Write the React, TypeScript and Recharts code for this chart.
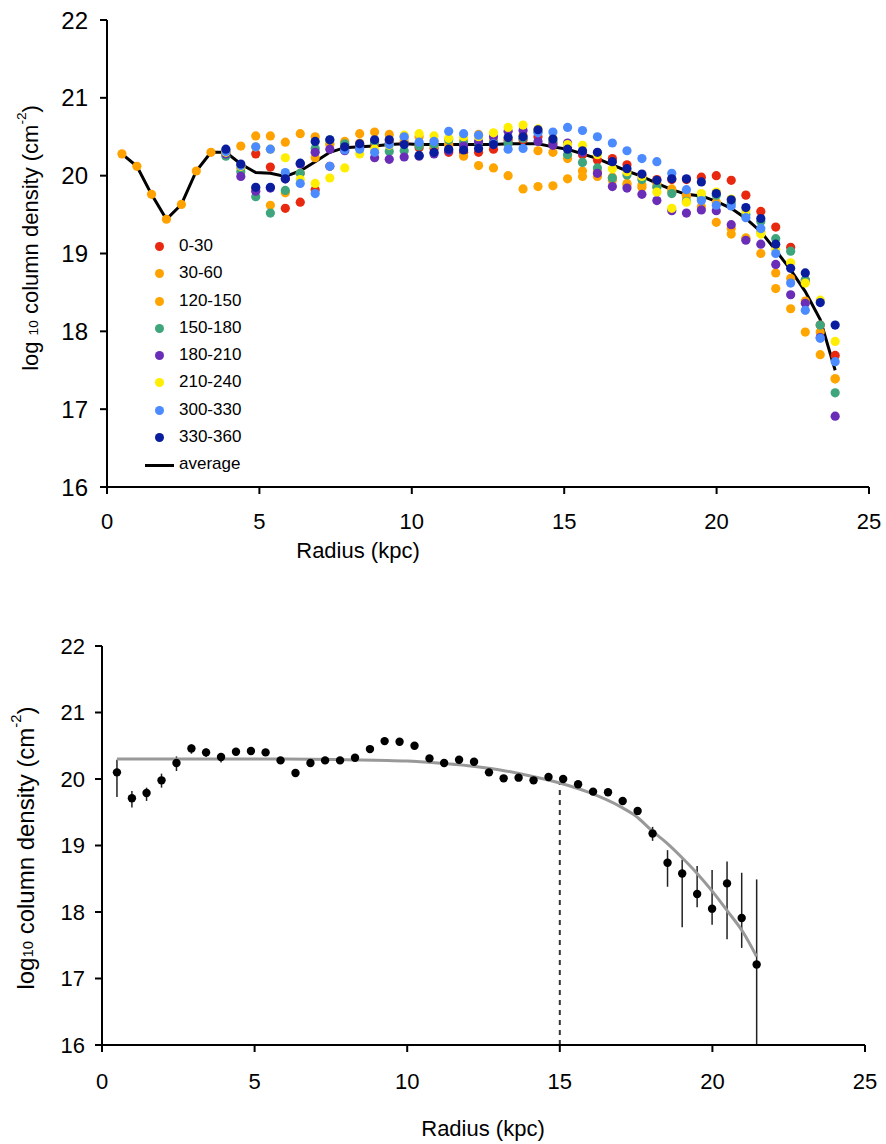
import React from 'react';
import { ScatterChart, Scatter, XAxis, YAxis, ErrorBar, ReferenceLine, Legend } from 'recharts';

const FONT = '"Liberation Sans", Arial, Helvetica, sans-serif';

// Radii (kpc) of the annuli
const radius = [
  0.49, 0.98, 1.46, 1.95, 2.44, 2.93, 3.41, 3.90, 4.39, 4.88,
  5.36, 5.85, 6.34, 6.83, 7.31, 7.80, 8.29, 8.78, 9.26, 9.75,
  10.24, 10.73, 11.21, 11.70, 12.19, 12.68, 13.16, 13.65, 14.14, 14.63,
  15.11, 15.60, 16.09, 16.58, 17.06, 17.55, 18.04, 18.53, 19.01, 19.50,
  19.99, 20.48, 20.96, 21.45, 21.94, 22.43, 22.91, 23.40, 23.89,
];

const N7 = [null, null, null, null, null, null, null];

// Top panel: azimuthal sectors (values n=8..49, first 7 radii only in 30-60)
const s0_30 = [...N7,
  20.30, 20.12, 20.28, 20.11, 19.58, 19.66, 19.82, 20.12, 20.37, 20.40,
  20.40, 20.42, 20.42, 20.36, 20.35, 20.30, 20.30, 20.30, 20.34, 20.45,
  20.46, 20.50, 20.42, 20.36, 20.27, 20.20, 20.22, 20.14, 20.00, 19.95,
  19.95, 19.95, 19.98, 20.00, 19.94, 19.75, 19.54, 19.34, 19.08, 18.66,
  18.08, 17.69];
const s30_60 = [20.28, 20.12, 19.76, 19.44, 19.63, 20.06, 20.30,
  20.30, 20.38, 20.51, 20.51, 20.43, 20.54, 20.50, 20.41, 20.44, 20.54,
  20.56, 20.53, 20.50, 20.50, 20.38, 20.39, 20.25, 20.53, 20.45, 20.47,
  20.52, 20.32, 20.30, 20.22, 20.06, 19.99, 19.94, 19.88, 19.85, 19.86,
  19.83, 19.73, 19.60, 19.40, 19.32, 19.19, 19.00, 18.75, 18.68, 18.39,
  17.99, 17.39];
const s120_150 = [...N7,
  20.30, 20.10, 19.83, 19.62, 19.78, 20.03, 20.23, 20.40, 20.40, 20.42,
  20.44, 20.46, 20.45, 20.40, 20.45, 20.41, 20.45, 20.13, 20.10, 20.00,
  19.83, 19.86, 19.87, 19.96, 19.99, 20.05, 19.98, 19.90, 19.88, 19.90,
  19.80, 19.75, 19.70, 19.66, 19.25, 19.20, 19.28, 18.55, 18.29, 17.99,
  17.70, 17.39];
const s150_180 = [...N7,
  20.25, 20.05, 19.73, 19.52, 19.81, 20.03, 20.35, 20.46, 20.41, 20.38,
  20.43, 20.31, 20.32, 20.38, 20.40, 20.46, 20.42, 20.42, 20.43, 20.41,
  20.48, 20.56, 20.44, 20.27, 20.17, 20.10, 19.97, 20.01, 19.95, 19.85,
  19.77, 19.67, 19.72, 19.75, 19.65, 19.50, 19.41, 19.19, 19.03, 18.66,
  18.08, 17.21];
const s180_210 = [...N7,
  20.28, 19.99, 19.80, 19.84, 19.96, 20.15, 20.30, 20.34, 20.32, 20.36,
  20.23, 20.21, 20.24, 20.25, 20.28, 20.32, 20.38, 20.44, 20.50, 20.57,
  20.58, 20.44, 20.39, 20.42, 20.30, 20.03, 19.86, 19.84, 19.76, 19.68,
  19.55, 19.52, 19.56, 19.55, 19.37, 19.17, 19.12, 18.86, 18.47, 18.36,
  17.92, 16.91];
const s210_240 = [...N7,
  20.30, 20.12, 20.37, 20.34, 20.23, 19.95, 19.90, 19.97, 20.10, 20.28,
  20.34, 20.39, 20.52, 20.54, 20.51, 20.48, 20.50, 20.50, 20.55, 20.62,
  20.65, 20.60, 20.48, 20.40, 20.39, 20.27, 20.09, 20.05, 19.99, 19.79,
  19.58, 19.66, 19.77, 19.79, 19.70, 19.55, 19.25, 19.05, 18.88, 18.62,
  18.40, 17.87];
const s300_330 = [...N7,
  20.31, 20.13, 20.37, 20.34, 20.04, 19.90, 19.77, 20.12, 20.33, 20.34,
  20.30, 20.40, 20.50, 20.43, 20.44, 20.57, 20.54, 20.52, 20.41, 20.34,
  20.35, 20.55, 20.56, 20.62, 20.58, 20.50, 20.42, 20.32, 20.22, 20.18,
  20.03, 19.82, 19.68, 19.62, 19.61, 19.46, 19.32, 19.00, 18.62, 18.27,
  17.91, 17.61];
const s330_360 = [...N7,
  20.34, 20.15, 19.85, 19.85, 19.96, 20.16, 20.44, 20.46, 20.37, 20.41,
  20.46, 20.46, 20.40, 20.26, 20.30, 20.34, 20.33, 20.35, 20.40, 20.49,
  20.50, 20.59, 20.47, 20.34, 20.32, 20.30, 20.18, 20.09, 20.02, 19.94,
  19.96, 19.96, 19.92, 19.77, 19.69, 19.59, 19.45, 19.12, 18.81, 18.75,
  18.37, 18.08];
const average = [
  20.28, 20.12, 19.76, 19.44, 19.63, 20.06, 20.30, 20.30, 20.15, 20.04,
  20.03, 19.99, 20.06, 20.18, 20.30, 20.36, 20.37, 20.38, 20.40, 20.41,
  20.40, 20.40, 20.40, 20.40, 20.40, 20.40, 20.41, 20.41, 20.41, 20.37,
  20.34, 20.28, 20.22, 20.14, 20.06, 19.99, 19.90, 19.82, 19.76, 19.74,
  19.67, 19.58, 19.45, 19.28, 19.04, 18.79, 18.51, 18.15, 17.50,
];

const seriesNames = ['0-30', '30-60', '120-150', '150-180', '180-210', '210-240', '300-330', '330-360'];
const seriesValues = [s0_30, s30_60, s120_150, s150_180, s180_210, s210_240, s300_330, s330_360];
const seriesColors = ['#E8290F', '#FFA200', '#FFA500', '#3FA57C', '#6A2DB8', '#FFEE00', '#4B8BFF', '#0A1D9E'];

// Bottom panel: azimuthally averaged profile (n=1..44)
const profile = [
  20.10, 19.71, 19.79, 19.98, 20.24, 20.46, 20.40, 20.33, 20.41, 20.42,
  20.40, 20.28, 20.09, 20.24, 20.28, 20.28, 20.32, 20.45, 20.57, 20.56,
  20.50, 20.31, 20.24, 20.29, 20.26, 20.10, 20.01, 20.02, 19.98, 20.03,
  20.00, 19.92, 19.81, 19.80, 19.67, 19.52, 19.18, 18.74, 18.58, 18.27,
  18.05, 18.43, 17.91, 17.21,
];
const errLow = [
  0.37, 0.14, 0.12, 0.11, 0.12, 0.08, 0.07, 0.08, 0.03, 0.03,
  0.03, 0.03, 0.04, 0.03, 0.03, 0.03, 0.03, 0.03, 0.03, 0.03,
  0.03, 0.03, 0.03, 0.03, 0.03, 0.03, 0.03, 0.03, 0.03, 0.03,
  0.03, 0.03, 0.03, 0.03, 0.03, 0.03, 0.11, 0.36, 0.81, 0.20,
  0.24, 0.84, 0.45, 1.21,
];
const errHigh = [
  0.19, 0.11, 0.08, 0.10, 0.10, 0.06, 0.06, 0.06, 0.03, 0.03,
  0.03, 0.03, 0.04, 0.03, 0.03, 0.03, 0.03, 0.03, 0.03, 0.03,
  0.03, 0.03, 0.03, 0.03, 0.03, 0.03, 0.03, 0.03, 0.03, 0.03,
  0.03, 0.03, 0.03, 0.03, 0.03, 0.03, 0.10, 0.19, 0.21, 0.42,
  0.58, 0.33, 0.68, 1.28,
];
// Fitted model curve
const fitR = [0.49, 2, 4, 6, 8, 10, 11, 12, 13, 14, 15, 16, 17, 17.5, 18, 18.5, 19, 19.5, 20, 20.5, 21, 21.45];
const fitV = [20.30, 20.30, 20.30, 20.30, 20.29, 20.27, 20.24, 20.20, 20.14, 20.05, 19.94, 19.79, 19.58, 19.44, 19.23, 19.04, 18.82, 18.58, 18.31, 18.01, 17.70, 17.33];
const breakRadius = 15;
const breakTop = 19.93;

const xTicks = [0, 5, 10, 15, 20, 25];
const yTicks = [16, 17, 18, 19, 20, 21, 22];

const toPoints = (vals: (number | null)[]) =>
  radius.map((r, i) => ({ r, v: vals[i] })).filter((d) => d.v !== null && d.v !== undefined);

const topSeries = seriesNames.map((name, i) => ({ name, color: seriesColors[i], data: toPoints(seriesValues[i]) }));
const avgData = toPoints(average);
const profileData = profile.map((v, i) => ({ r: radius[i], v, e: [errLow[i], errHigh[i]] }));
const fitData = fitR.map((r, i) => ({ r, v: fitV[i] }));

const dot = (color: string, rad: number) => (p: any) => <circle cx={p.cx} cy={p.cy} r={rad} fill={color} />;
const noDot = () => <g />;

const YTitle = ({ x, y, size, spaced }: { x: number; y: number; size: number; spaced: boolean }) => (
  <text transform={`translate(${x},${y}) rotate(-90)`} textAnchor="middle" fontFamily={FONT} fontSize={size} fill="#000" dominantBaseline="central">
    <tspan>{spaced ? 'log ' : 'log'}</tspan>
    <tspan fontSize={size * 0.62} dy={3}>10</tspan>
    <tspan dy={-3}>{' column density (cm'}</tspan>
    <tspan fontSize={size * 0.62} dy={-9}>-2</tspan>
    <tspan dy={9}>)</tspan>
  </text>
);

const XTitle = ({ x, y, size }: { x: number; y: number; size: number }) => (
  <text x={x} y={y} textAnchor="middle" fontFamily={FONT} fontSize={size} fill="#000" dominantBaseline="central">
    Radius (kpc)
  </text>
);

const TopLegend = () => (
  <div style={{ fontFamily: FONT, fontSize: 17, color: '#000' }}>
    {topSeries.map((s) => (
      <div key={s.name} style={{ height: 27.3, position: 'relative' }}>
        <span style={{ position: 'absolute', left: 10, top: 9, width: 9, height: 9, borderRadius: '50%', background: s.color }} />
        <span style={{ position: 'absolute', left: 34, top: 3, lineHeight: '20px' }}>{s.name}</span>
      </div>
    ))}
    <div style={{ height: 27.3, position: 'relative' }}>
      <span style={{ position: 'absolute', left: 0, top: 12.5, width: 29, height: 3, background: '#000' }} />
      <span style={{ position: 'absolute', left: 34, top: 3, lineHeight: '20px' }}>average</span>
    </div>
  </div>
);

const axisStyle = { stroke: '#000', strokeWidth: 2 };

export default function App() {
  return (
    <div style={{ position: 'absolute', left: 0, top: 0, width: 886, height: 1144, background: '#fff' }}>
      <div style={{ position: 'absolute', left: 0, top: 0 }}>
        <ScatterChart width={886} height={580} margin={{ top: 20, right: 17, left: 47, bottom: 33 }}>
          <XAxis
            type="number"
            dataKey="r"
            domain={[0, 25]}
            ticks={xTicks}
            allowDataOverflow
            height={60}
            tickSize={7}
            tickMargin={19}
            axisLine={axisStyle}
            tickLine={axisStyle}
            tick={{ fontSize: 22, fill: '#000', fontFamily: FONT }}
            label={{ content: () => <XTitle x={358} y={550} size={22} /> }}
          />
          <YAxis
            type="number"
            dataKey="v"
            domain={[16, 22]}
            ticks={yTicks}
            allowDataOverflow
            width={60}
            tickSize={7}
            tickMargin={12}
            axisLine={axisStyle}
            tickLine={axisStyle}
            tick={{ fontSize: 24, fill: '#000', fontFamily: FONT }}
            label={{ content: () => <YTitle x={30} y={238} size={22} spaced={true} /> }}
          />
          <Scatter
            name="average"
            data={avgData}
            line={{ stroke: '#000', strokeWidth: 3 }}
            lineJointType="linear"
            shape={noDot}
            isAnimationActive={false}
            legendType="none"
          />
          {topSeries.map((s) => (
            <Scatter key={s.name} name={s.name} data={s.data} fill={s.color} shape={dot(s.color, 4.6)} isAnimationActive={false} />
          ))}
          <Legend
            layout="horizontal"
            verticalAlign="middle"
            align="center"
            content={() => <TopLegend />}
            wrapperStyle={{ left: 145, top: 233, width: 140, height: 250 }}
          />
        </ScatterChart>
      </div>
      <div style={{ position: 'absolute', left: 0, top: 600 }}>
        <ScatterChart width={886} height={544} margin={{ top: 46, right: 21, left: 42, bottom: 39 }}>
          <XAxis
            type="number"
            dataKey="r"
            domain={[0, 25]}
            ticks={xTicks}
            allowDataOverflow
            height={60}
            tickSize={7}
            tickMargin={21}
            axisLine={axisStyle}
            tickLine={axisStyle}
            tick={{ fontSize: 22, fill: '#000', fontFamily: FONT }}
            label={{ content: () => <XTitle x={483} y={528} size={22} /> }}
          />
          <YAxis
            type="number"
            dataKey="v"
            domain={[16, 22]}
            ticks={yTicks}
            allowDataOverflow
            width={60}
            tickSize={7}
            tickMargin={10}
            axisLine={axisStyle}
            tickLine={axisStyle}
            tick={{ fontSize: 22, fill: '#000', fontFamily: FONT }}
            label={{ content: () => <YTitle x={25} y={248} size={24} spaced={false} /> }}
          />
          <ReferenceLine
            segment={[{ x: breakRadius, y: 16 }, { x: breakRadius, y: breakTop }]}
            stroke="#333"
            strokeWidth={2}
            strokeDasharray="5 5"
          />
          <Scatter
            name="fit"
            data={fitData}
            line={{ stroke: '#999', strokeWidth: 3 }}
            lineJointType="monotoneX"
            shape={noDot}
            isAnimationActive={false}
          />
          <Scatter name="profile" data={profileData} fill="#000" shape={dot('#000', 4.2)} isAnimationActive={false}>
            <ErrorBar dataKey="e" direction="y" width={0} stroke="#222" strokeWidth={1.5} />
          </Scatter>
        </ScatterChart>
      </div>
    </div>
  );
}
